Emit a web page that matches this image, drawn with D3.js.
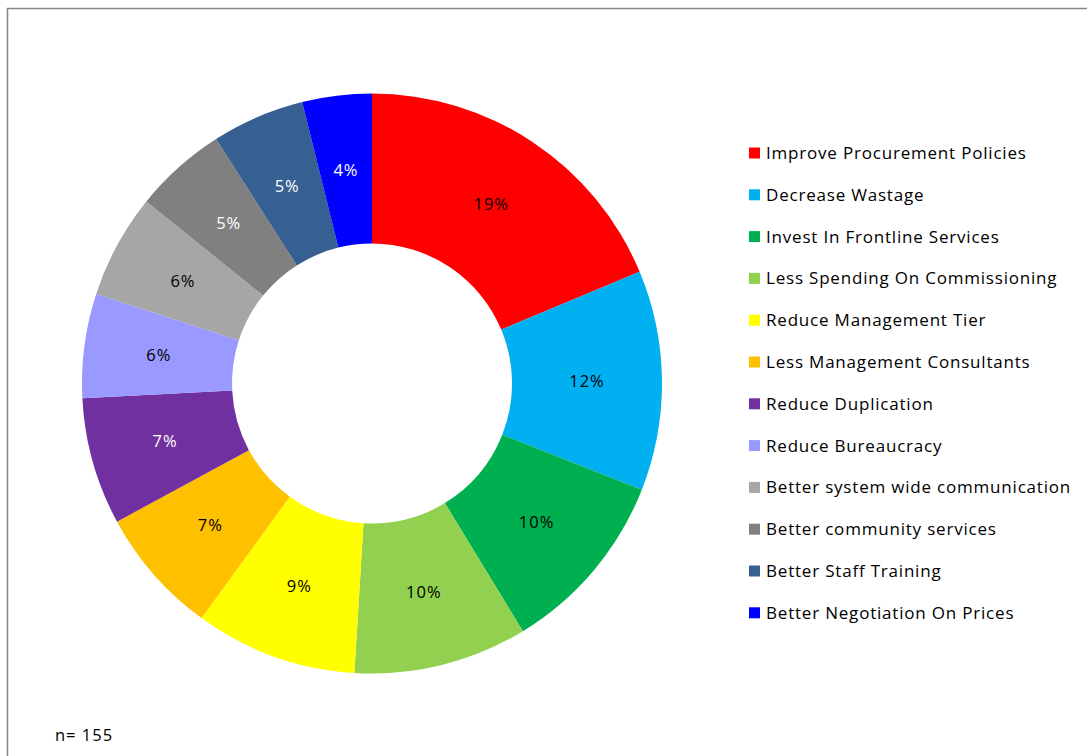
<!DOCTYPE html>
<html>
<head>
<meta charset="utf-8">
<script src="https://cdn.jsdelivr.net/npm/d3@7"></script>
<style>
  html, body { margin: 0; padding: 0; background: #fff; }
  svg { display: block; font-family: "Open Sans", Lato, sans-serif; }
</style>
</head>
<body>
<svg id="chart" width="1087" height="756"></svg>
<script>
// Survey responses per suggested saving area (n = 155)
const categories = [
  "Improve Procurement Policies",
  "Decrease Wastage",
  "Invest In Frontline Services",
  "Less Spending On Commissioning",
  "Reduce Management Tier",
  "Less Management Consultants",
  "Reduce Duplication",
  "Reduce Bureaucracy",
  "Better system wide communication",
  "Better community services",
  "Better Staff Training",
  "Better Negotiation On Prices"
];
const responses = [29, 19, 16, 15, 14, 11, 11, 9, 9, 8, 8, 6];
const colors = [
  "#FF0000", "#00B0F0", "#00B050", "#92D050", "#FFFF00", "#FFC000",
  "#7030A0", "#9999FF", "#A6A6A6", "#808080", "#376092", "#0000FF"
];
const labelColors = [
  "#000", "#000", "#000", "#000", "#000", "#000",
  "#fff", "#000", "#000", "#fff", "#fff", "#fff"
];
const sampleNote = "n= 155";

const total = d3.sum(responses);
const data = categories.map((c, i) => ({ name: c, value: responses[i], i }));

const svg = d3.select("#chart");

// chart frame
svg.append("rect")
  .attr("x", 7.5).attr("y", 8.5)
  .attr("width", 1100).attr("height", 760)
  .attr("fill", "none").attr("stroke", "#868686").attr("stroke-width", 1.5);

const cx = 372, cy = 383.5;
const outerR = 290, innerR = 140;

const pie = d3.pie().value(d => d.value).sort(null);
const arc = d3.arc().innerRadius(innerR).outerRadius(outerR);

const g = svg.append("g").attr("transform", `translate(${cx},${cy})`);
const arcs = pie(data);

g.selectAll("path.slice")
  .data(arcs)
  .join("path")
  .attr("class", "slice")
  .attr("d", arc)
  .attr("fill", d => colors[d.data.i]);

g.selectAll("text.pct")
  .data(arcs)
  .join("text")
  .attr("class", "pct")
  .attr("transform", d => `translate(${arc.centroid(d)})`)
  .attr("text-anchor", "middle")
  .attr("dy", "0.35em")
  .attr("font-size", 16.5)
  .attr("letter-spacing", 1)
  .attr("fill", d => labelColors[d.data.i])
  .text(d => Math.round(d.data.value / total * 100) + "%");

// legend
const legend = svg.append("g").attr("transform", "translate(749,153)");
const rowH = 41.8;
const item = legend.selectAll("g.item")
  .data(data)
  .join("g")
  .attr("class", "item")
  .attr("transform", (d, i) => `translate(0,${i * rowH})`);
item.append("rect")
  .attr("x", 0).attr("y", -5.5)
  .attr("width", 11).attr("height", 11)
  .attr("fill", d => colors[d.i]);
item.append("text")
  .attr("x", 17).attr("dy", "0.35em")
  .attr("font-size", 17)
  .attr("letter-spacing", 0.8)
  .attr("fill", "#000")
  .text(d => d.name);

svg.append("text")
  .attr("x", 55).attr("y", 735).attr("dy", "0.35em")
  .attr("font-size", 16.5).attr("letter-spacing", 1).attr("fill", "#000")
  .text(sampleNote);
</script>
</body>
</html>
